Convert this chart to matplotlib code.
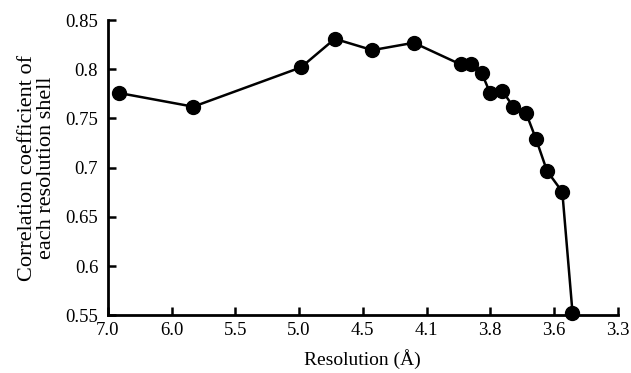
import numpy as np
import matplotlib
matplotlib.use('Agg')
import matplotlib.pyplot as plt

plt.rcParams['font.family'] = ['Liberation Serif', 'DejaVu Serif']

# tick labels of the (non-linear) resolution axis, evenly spaced
tick_res = [7.0, 6.0, 5.5, 5.0, 4.5, 4.1, 3.8, 3.6, 3.3]
tick_labels = ['7.0', '6.0', '5.5', '5.0', '4.5', '4.1', '3.8', '3.6', '3.3']

# resolution shells (Å) and correlation coefficient
resolution = [6.83, 5.83, 4.985, 4.72, 4.44, 4.18, 3.94, 3.89, 3.84, 3.80,
              3.762, 3.728, 3.688, 3.656, 3.622, 3.561, 3.513]
corr = [0.776, 0.762, 0.802, 0.831, 0.8195, 0.827, 0.805, 0.805, 0.796, 0.7755,
        0.778, 0.762, 0.7557, 0.7287, 0.6967, 0.6754, 0.5527]

yticks = [0.55, 0.6, 0.65, 0.7, 0.75, 0.8, 0.85]
ytick_labels = ['0.55', '0.6', '0.65', '0.7', '0.75', '0.8', '0.85']


def res_to_pos(r):
    # piecewise linear mapping of resolution onto evenly spaced tick positions
    idx = np.arange(len(tick_res))
    return np.interp(-np.asarray(r), -np.asarray(tick_res), idx)


fig = plt.figure(figsize=(6.31, 3.73), dpi=100)
ax = fig.add_axes([0.171, 0.155, 0.808, 0.791])

ax.plot(res_to_pos(resolution), corr, '-', color='black', lw=1.8,
        marker='o', markersize=10, markerfacecolor='black', clip_on=False, zorder=3)

ax.set_xlim(0, len(tick_res) - 1)
ax.set_ylim(0.55, 0.85)
ax.set_xticks(np.arange(len(tick_res)))
ax.set_xticklabels(tick_labels)
ax.set_yticks(yticks)
ax.set_yticklabels(ytick_labels)

for s in ['top', 'right']:
    ax.spines[s].set_visible(False)
for s in ['left', 'bottom']:
    ax.spines[s].set_linewidth(2)
ax.tick_params(direction='in', length=6, width=1.8, labelsize=13.5)
ax.tick_params(axis='y', pad=7)
ax.tick_params(axis='x', pad=5)

ax.set_xlabel('Resolution (Å)', fontsize=14, labelpad=7)
ax.set_ylabel('Correlation coefficient of\neach resolution shell', fontsize=16,
              labelpad=7, linespacing=0.95)

plt.savefig('out.png', dpi=100)
plt.close()
